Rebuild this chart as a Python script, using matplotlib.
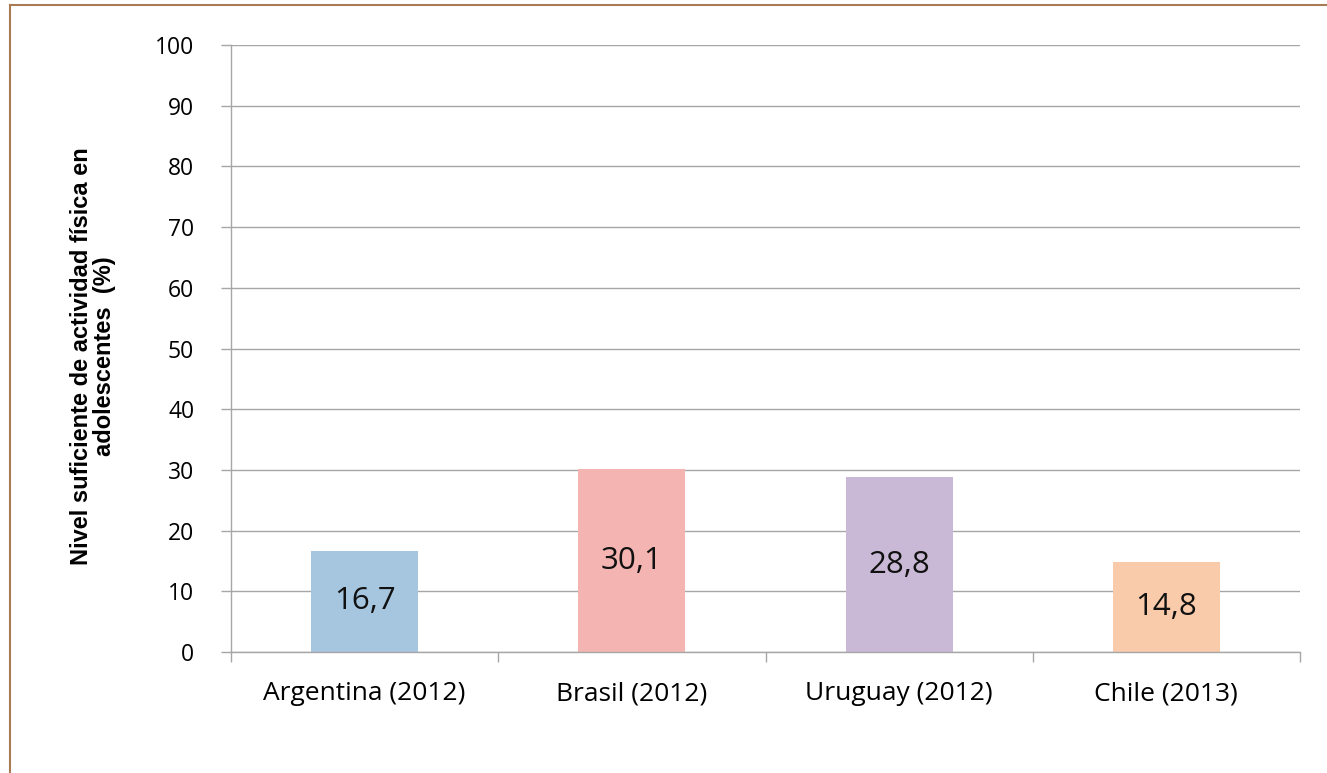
import matplotlib.pyplot as plt
from matplotlib.lines import Line2D

# Data
countries = ["Argentina (2012)", "Brasil (2012)", "Uruguay (2012)", "Chile (2013)"]
values = [16.7, 30.1, 28.8, 14.8]
value_labels = ["16,7", "30,1", "28,8", "14,8"]
bar_colors = ["#A6C6E0", "#F3B4B2", "#C9B9D6", "#F9CBAB"]
y_ticks = [0, 10, 20, 30, 40, 50, 60, 70, 80, 90, 100]
y_label = "Nivel suficiente de actividad física en\nadolescentes  (%)"

grid_color = "#A6A6A6"
font = ["Open Sans", "DejaVu Sans"]

fig = plt.figure(figsize=(13.27, 7.73), dpi=100)
ax = fig.add_axes([231 / 1327, 1 - 652 / 773, (1300 - 231) / 1327, (652 - 45) / 773])

x = list(range(len(countries)))
ax.bar(x, values, width=0.4, color=bar_colors, zorder=3)

for xi, v, lab in zip(x, values, value_labels):
    ax.text(xi, v / 2, lab, ha="center", va="center", fontsize=22.5,
            family=font, color="#111111", zorder=4)

ax.set_xlim(-0.5, len(countries) - 0.5)
ax.set_ylim(0, 100)

# y axis
ax.set_yticks(y_ticks)
ax.set_yticklabels([str(t) for t in y_ticks], family=font, fontsize=16.5)
ax.tick_params(axis="y", which="major", length=7.5, width=1, color=grid_color, pad=19)
ax.yaxis.grid(True, color=grid_color, linewidth=1, zorder=0)

# x axis: tick marks at category boundaries, labels under bars
ax.set_xticks([i - 0.5 for i in range(len(countries) + 1)])
ax.set_xticklabels([])
ax.set_xticks(x, minor=True)
ax.set_xticklabels(countries, minor=True, family=font, fontsize=19)
ax.tick_params(axis="x", which="major", length=7.5, width=1, color=grid_color)
ax.tick_params(axis="x", which="minor", length=0, pad=21)

for side in ["top", "right"]:
    ax.spines[side].set_visible(False)
for side in ["left", "bottom"]:
    ax.spines[side].set_color(grid_color)
    ax.spines[side].set_linewidth(1)
    ax.spines[side].set_zorder(5)

ax.set_ylabel(y_label, fontsize=17, fontweight="bold",
              family=["Liberation Sans", "DejaVu Sans"], linespacing=1.0)
ax.yaxis.set_label_coords(-0.108, 0.487)

# brown frame at the top and left edges
bx = 10 / 1327
by = 1 - 5 / 773
fig.add_artist(Line2D([bx, 1], [by, by], color="#A87B55", linewidth=1.5, transform=fig.transFigure))
fig.add_artist(Line2D([bx, bx], [0, by], color="#A87B55", linewidth=1.5, transform=fig.transFigure))

fig.savefig("out.png", dpi=100)
